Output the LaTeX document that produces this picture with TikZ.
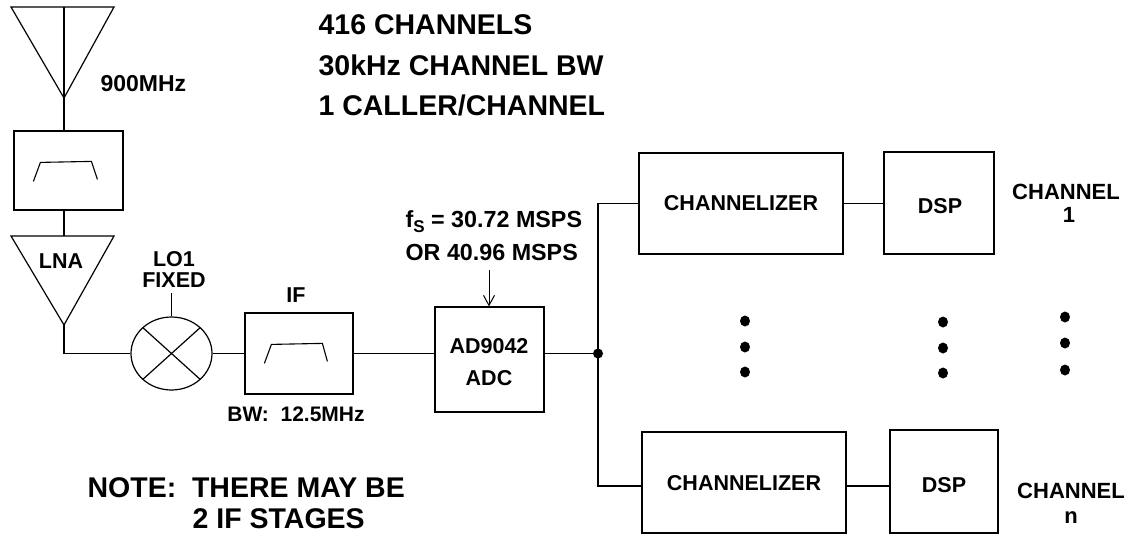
\documentclass[tikz,border=0pt]{standalone}
\usepackage{fontspec}
\setmainfont{Liberation Sans}
\usetikzlibrary{shapes.geometric,arrows.meta,calc}
\begin{document}
\begin{tikzpicture}[x=1pt,y=-1pt,line width=1.2pt,
  box/.style={draw,rectangle,inner sep=0pt},
  lab/.style={inner sep=0pt,anchor=base,font=\fontsize{21.5}{24}\selectfont\bfseries},
  labw/.style={inner sep=0pt,anchor=base west,font=\fontsize{23.3}{26}\selectfont\bfseries},
  big/.style={inner sep=0pt,anchor=base west,font=\fontsize{28.5}{34}\selectfont\bfseries},
  passband/.style={line width=1.1pt}]
\useasboundingbox (0,0) rectangle (1138,535);
% antenna
\coordinate (antL) at (11,7);
\coordinate (antR) at (114,7);
\coordinate (anttop) at (64,7);
\coordinate (antapex) at (64,98);
\draw (antL) -- (antR) -- (antapex) -- cycle;
\draw (anttop) -- (antapex);
\node[labw,font=\fontsize{23}{26}\selectfont\bfseries] (rf) at (100,92) {900MHz};
% RF filter
\node[box,minimum width=109pt,minimum height=79pt] (f1) at (68.5,170.5) {};
\draw[passband] ($(f1.north west)+(20,51)$) -- ($(f1.north west)+(27,32)$) -- ($(f1.north west)+(78,31)$) -- ($(f1.north west)+(84,49)$);
\draw (antapex) -- (f1.north -| antapex);
% LNA
\coordinate (lnaL) at (11,236);
\coordinate (lnaR) at (114,236);
\coordinate (lnatop) at (64,236);
\coordinate (lnaapex) at (64,325);
\draw (lnaL) -- (lnaR) -- (lnaapex) -- cycle;
\draw (f1.south -| antapex) -- (lnatop);
\node[lab] (lnat) at (61,268) {LNA};
% mixer
\node[draw,ellipse,inner sep=0pt,minimum width=81pt,minimum height=73pt] (mix) at (171.5,353.5) {};
\draw ($(mix.center)+(-28.6,-25.8)$) -- ($(mix.center)+(28.6,25.8)$);
\draw ($(mix.center)+(28.6,-25.8)$) -- ($(mix.center)+(-28.6,25.8)$);
\draw (lnaapex) |- (mix.west);
\coordinate (lo) at (171.5,293);
\draw (lo) -- (mix.north);
\node[lab] (lo1) at (174,266) {LO1};
\node[lab] (fixed) at (174,287) {FIXED};
% IF filter
\node[box,minimum width=108pt,minimum height=81pt] (if) at (299,353.5) {};
\draw[passband] ($(if.north west)+(20,51)$) -- ($(if.north west)+(27,32)$) -- ($(if.north west)+(78,31)$) -- ($(if.north west)+(83,49)$);
\draw (mix.east) -- (if.west);
\node[lab] (ift) at (296,302) {IF};
\node[lab,font=\fontsize{21}{24}\selectfont\bfseries] (bw) at (296,421.5) {BW:\ \ 12.5MHz};
% ADC
\node[box,minimum width=109pt,minimum height=105pt] (adc) at (489.5,359.5) {};
\draw (if.east) -- (adc.west |- if.east);
\node[lab] (adct1) at (489,353) {AD9042};
\node[lab] (adct2) at (489,385) {ADC};
\node[labw] (fs) at (405,227) {f\raisebox{-5pt}{\fontsize{17}{17}\selectfont S} = 30.72 MSPS};
\node[labw] (fs2) at (405,260) {OR 40.96 MSPS};
\coordinate (clk) at (489,270);
\draw[line width=1pt,-{Straight Barb[length=10pt,width=11pt,line width=1pt]}] (clk) -- (adc.north -| clk);
% junction
\node[circle,fill,inner sep=0pt,minimum size=10pt] (junc) at (598,353.5) {};
\draw (adc.east |- if.east) -- (junc.center);
% channel 1
\node[box,minimum width=204pt,minimum height=101pt] (ch1) at (741,203.5) {};
\node[box,minimum width=110pt,minimum height=102pt] (dsp1) at (939,203) {};
\draw (ch1.west) -| (junc.center);
\draw (ch1.east) -- (dsp1.west |- ch1.east);
\node[lab] (ch1t) at (741,210) {CHANNELIZER};
\node[lab] (dsp1t) at (940,213) {DSP};
\node[lab,font=\fontsize{22}{24}\selectfont\bfseries] (c1a) at (1066,199) {CHANNEL};
\node[lab,font=\fontsize{22}{24}\selectfont\bfseries] (c1b) at (1069,222) {1};
% channel n
\node[box,minimum width=204pt,minimum height=101pt] (chn) at (744,482.5) {};
\node[box,minimum width=108pt,minimum height=103pt] (dspn) at (944,481.5) {};
\draw (junc.center) |- ([yshift=-3.5pt]chn.west);
\draw ([yshift=-3.5pt]chn.east) -- ([yshift=-3.5pt]chn.east -| dspn.west);
\node[lab] (chnt) at (744,490) {CHANNELIZER};
\node[lab] (dspnt) at (944,492) {DSP};
\node[lab,font=\fontsize{22}{24}\selectfont\bfseries] (cna) at (1071,498) {CHANNEL};
\node[lab,font=\fontsize{22}{24}\selectfont\bfseries] (cnb) at (1071,523) {n};
% ellipsis dots
\foreach \x/\ya/\yb/\yc in {745/321/347/372, 943/322/348/373, 1065/317/343/370}{
  \fill (\x,\ya) ellipse [x radius=5, y radius=5.5];
  \fill (\x,\yb) ellipse [x radius=5, y radius=5.5];
  \fill (\x,\yc) ellipse [x radius=5, y radius=5.5];
}
% headings
\node[big] (h1) at (318,35) {416 CHANNELS};
\node[big] (h2) at (318,75) {30kHz CHANNEL BW};
\node[big] (h3) at (318,115) {1 CALLER/CHANNEL};
\node[big] (n1) at (87,497) {NOTE:\ \ THERE MAY BE};
\node[big] (n2) at (192,528) {2 IF STAGES};
\end{tikzpicture}
\end{document}
